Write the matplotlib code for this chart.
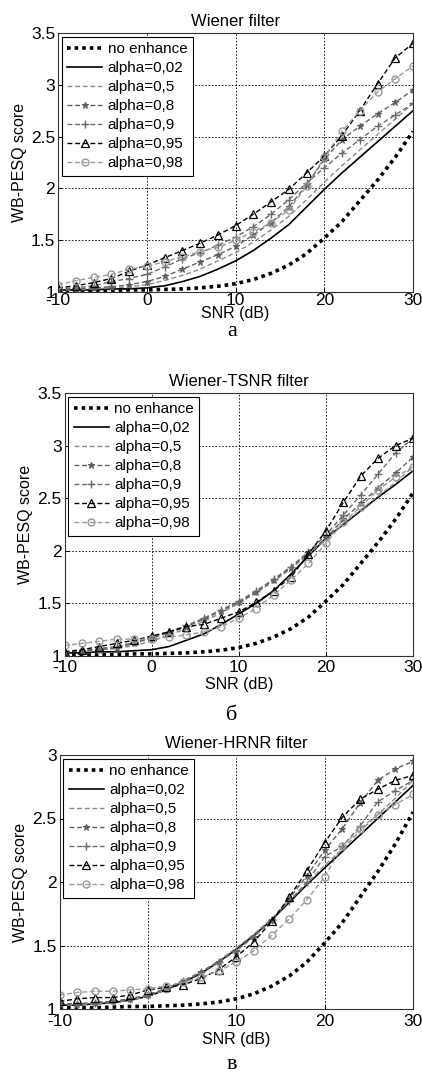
import matplotlib
matplotlib.use("Agg")
import matplotlib.pyplot as plt
import numpy as np

plt.rcParams['font.family'] = ['Liberation Sans', 'DejaVu Sans']
plt.rcParams['axes.unicode_minus'] = False

snr = list(range(-10, 31, 2))

no_enhance = [1.01, 1.01, 1.01, 1.015, 1.02, 1.02, 1.025, 1.03, 1.04, 1.055, 1.08,
              1.12, 1.18, 1.26, 1.37, 1.52, 1.68, 1.88, 2.08, 2.30, 2.55]

# Panel a: Wiener filter
w_002 = [1.02, 1.02, 1.02, 1.03, 1.03, 1.04, 1.06, 1.10, 1.15, 1.22, 1.30,
         1.40, 1.52, 1.65, 1.82, 1.99, 2.15, 2.30, 2.45, 2.60, 2.75]
w_05 = [1.02, 1.02, 1.03, 1.04, 1.05, 1.07, 1.11, 1.16, 1.22, 1.30, 1.38,
        1.48, 1.60, 1.73, 1.89, 2.06, 2.22, 2.37, 2.52, 2.67, 2.82]
w_08 = [1.02, 1.03, 1.04, 1.05, 1.07, 1.10, 1.15, 1.22, 1.29, 1.36, 1.44,
        1.55, 1.67, 1.82, 2.03, 2.28, 2.47, 2.60, 2.72, 2.83, 2.95]
w_09 = [1.03, 1.04, 1.06, 1.10, 1.13, 1.17, 1.24, 1.32, 1.38, 1.45, 1.53,
        1.63, 1.75, 1.89, 2.05, 2.20, 2.34, 2.47, 2.60, 2.71, 2.82]
w_095 = [1.04, 1.06, 1.09, 1.13, 1.20, 1.26, 1.33, 1.40, 1.47, 1.55, 1.64,
         1.75, 1.87, 1.99, 2.15, 2.31, 2.51, 2.75, 3.01, 3.26, 3.40]
w_098 = [1.07, 1.11, 1.14, 1.17, 1.22, 1.25, 1.29, 1.34, 1.39, 1.43, 1.50,
         1.58, 1.67, 1.79, 2.02, 2.30, 2.55, 2.75, 2.93, 3.06, 3.18]

# Panel б: Wiener-TSNR filter
t_002 = [1.03, 1.03, 1.04, 1.04, 1.05, 1.06, 1.09, 1.15, 1.21, 1.30, 1.40,
         1.50, 1.62, 1.78, 1.95, 2.12, 2.25, 2.38, 2.51, 2.63, 2.76]
t_05 = [1.04, 1.05, 1.06, 1.07, 1.10, 1.14, 1.20, 1.26, 1.33, 1.41, 1.50,
        1.60, 1.71, 1.83, 1.97, 2.11, 2.26, 2.39, 2.52, 2.65, 2.80]
t_08 = [1.04, 1.05, 1.06, 1.08, 1.12, 1.17, 1.22, 1.28, 1.35, 1.43, 1.51,
        1.61, 1.72, 1.84, 1.98, 2.12, 2.30, 2.45, 2.60, 2.74, 2.89]
t_09 = [1.04, 1.05, 1.07, 1.09, 1.13, 1.18, 1.23, 1.29, 1.36, 1.44, 1.52,
        1.62, 1.73, 1.85, 1.99, 2.15, 2.34, 2.53, 2.73, 2.93, 3.07]
t_095 = [1.04, 1.06, 1.09, 1.12, 1.15, 1.19, 1.23, 1.28, 1.30, 1.36, 1.42,
         1.51, 1.62, 1.75, 1.97, 2.19, 2.46, 2.71, 2.88, 3.00, 3.07]
t_098 = [1.10, 1.12, 1.14, 1.16, 1.16, 1.16, 1.18, 1.20, 1.23, 1.28, 1.36,
         1.45, 1.58, 1.72, 1.88, 2.07, 2.27, 2.42, 2.58, 2.70, 2.80]

# Panel в: Wiener-HRNR filter
h_002 = [1.03, 1.03, 1.04, 1.05, 1.07, 1.10, 1.15, 1.21, 1.28, 1.37, 1.47,
         1.58, 1.70, 1.84, 1.98, 2.11, 2.24, 2.37, 2.50, 2.63, 2.76]
h_05 = [1.03, 1.03, 1.04, 1.05, 1.07, 1.10, 1.15, 1.21, 1.29, 1.38, 1.48,
        1.59, 1.71, 1.85, 1.99, 2.13, 2.26, 2.40, 2.53, 2.66, 2.80]
h_08 = [1.04, 1.04, 1.05, 1.06, 1.08, 1.11, 1.16, 1.22, 1.29, 1.37, 1.46,
        1.57, 1.70, 1.87, 2.05, 2.25, 2.42, 2.62, 2.80, 2.89, 2.95]
h_09 = [1.04, 1.04, 1.05, 1.06, 1.08, 1.11, 1.16, 1.22, 1.29, 1.37, 1.46,
        1.57, 1.70, 1.85, 2.00, 2.20, 2.28, 2.44, 2.63, 2.72, 2.80]
h_095 = [1.06, 1.08, 1.09, 1.09, 1.11, 1.15, 1.17, 1.19, 1.24, 1.31, 1.41,
         1.53, 1.69, 1.88, 2.09, 2.31, 2.51, 2.65, 2.73, 2.80, 2.84]
h_098 = [1.11, 1.13, 1.14, 1.14, 1.15, 1.16, 1.18, 1.21, 1.25, 1.30, 1.37,
         1.46, 1.58, 1.71, 1.86, 2.04, 2.28, 2.42, 2.53, 2.61, 2.69]

labels = ['no enhance', 'alpha=0,02', 'alpha=0,5', 'alpha=0,8',
          'alpha=0,9', 'alpha=0,95', 'alpha=0,98']
titles = ['Wiener filter', 'Wiener-TSNR filter', 'Wiener-HRNR filter']
captions = ['а', 'б', 'в']
ylims = [(1, 3.5), (1, 3.5), (1, 3)]

panels = [
    [no_enhance, w_002, w_05, w_08, w_09, w_095, w_098],
    [no_enhance, t_002, t_05, t_08, t_09, t_095, t_098],
    [no_enhance, h_002, h_05, h_08, h_09, h_095, h_098],
]

styles = [
    dict(color='black', linestyle=(0, (1, 1.1)), linewidth=2.6),
    dict(color='black', linestyle='-', linewidth=1.2),
    dict(color='#8a8a8a', linestyle=(0, (3.5, 2)), linewidth=1.0),
    dict(color='#606060', linestyle=(0, (3.5, 2)), linewidth=1.0, marker='*',
         markersize=5, markerfacecolor='#606060', markeredgewidth=0.8),
    dict(color='#6a6a6a', linestyle=(0, (3.5, 2)), linewidth=1.0, marker='+',
         markersize=6, markeredgewidth=1.0),
    dict(color='black', linestyle=(0, (3.5, 2)), linewidth=1.0, marker='^',
         markersize=5.5, markerfacecolor='none', markeredgewidth=0.9),
    dict(color='#9a9a9a', linestyle=(0, (3.5, 2)), linewidth=1.0, marker='o',
         markersize=5, markerfacecolor='none', markeredgewidth=1.0),
]

W, H = 422, 1075
fig = plt.figure(figsize=(W / 100, H / 100), dpi=100)

# axes boxes in pixels: left, top, right, bottom
boxes = [(58, 33, 413, 292), (64.5, 393, 413, 656), (59.5, 755, 413, 1009)]
tick_pads = [0.5, 3.0, 3.5]
xlabel_pads = [-1.5, 1.0, 2.5]
cap_base = [336, 720, 1069]

for i, (box, series) in enumerate(zip(boxes, panels)):
    l, t, r, b = box
    ax = fig.add_axes([l / W, 1 - b / H, (r - l) / W, (b - t) / H])
    for s, lab, st in zip(series, labels, styles):
        ax.plot(snr, s, label=lab, **st)
    ax.set_xlim(-10, 30)
    ax.set_ylim(*ylims[i])
    ax.set_xticks([-10, 0, 10, 20, 30])
    yt = np.arange(ylims[i][0], ylims[i][1] + 0.01, 0.5)
    ax.set_yticks(yt)
    ax.set_yticklabels([('%g' % v) for v in yt])
    ax.grid(True, color='black', linestyle=(0, (2, 2)), linewidth=0.6)
    ax.tick_params(direction='in', labelsize=12.5, length=3, width=0.7)
    ax.tick_params(axis='x', pad=tick_pads[i])
    ax.tick_params(axis='y', pad=2)
    for sp in ax.spines.values():
        sp.set_linewidth(0.8)
        sp.set_color('#333333')
    ax.set_title(titles[i], fontsize=12, pad=5)
    ax.set_xlabel('SNR (dB)', fontsize=11.5, labelpad=xlabel_pads[i])
    ax.set_ylabel('WB-PESQ score', fontsize=11.5, labelpad=3)
    leg = ax.legend(loc='upper left', fontsize=11, frameon=True, fancybox=False,
                    framealpha=1, edgecolor='black', handlelength=2.3,
                    handletextpad=0.35, labelspacing=0.33, borderpad=0.35,
                    borderaxespad=0.25)
    leg.get_frame().set_linewidth(0.8)
    fig.text(232 / W, 1 - cap_base[i] / H, captions[i], ha='center', va='baseline',
             fontsize=16, family=['Liberation Serif', 'DejaVu Serif'])

fig.savefig('out.png', dpi=100)
